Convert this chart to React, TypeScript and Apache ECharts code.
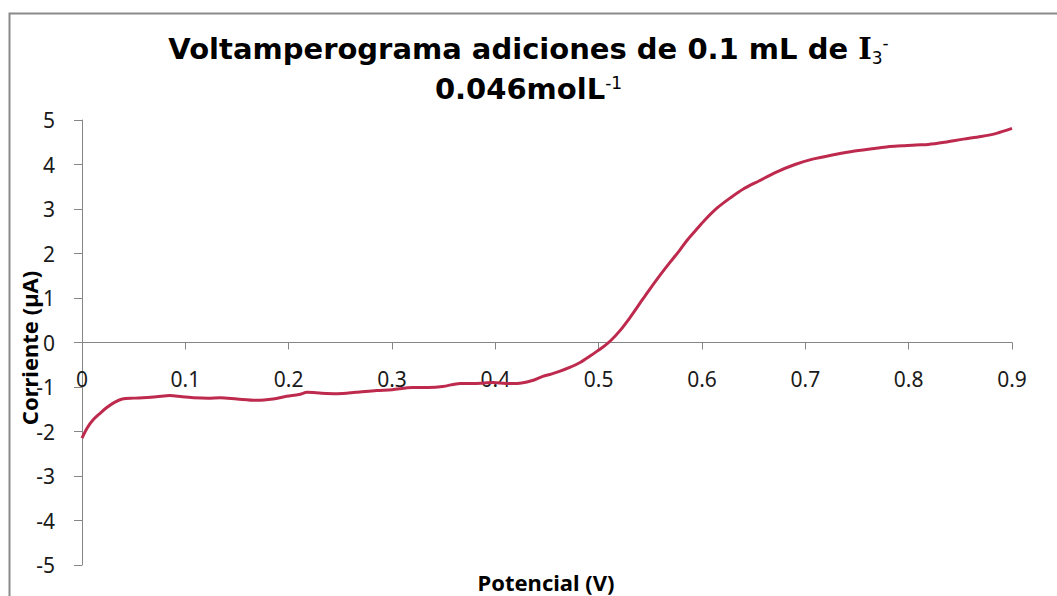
import React, { useEffect, useRef } from "react";
import * as echarts from "echarts";

const potential = [0, 0.005, 0.011, 0.018, 0.024, 0.031, 0.039, 0.05, 0.059, 0.072, 0.085, 0.097, 0.108, 0.122, 0.134, 0.15, 0.169, 0.185, 0.198, 0.21, 0.218, 0.232, 0.247, 0.265, 0.285, 0.3, 0.32, 0.335, 0.349, 0.366, 0.38, 0.398, 0.41, 0.421, 0.435, 0.446, 0.454, 0.462, 0.472, 0.482, 0.492, 0.5, 0.506, 0.512, 0.52, 0.53, 0.539, 0.548, 0.558, 0.569, 0.578, 0.586, 0.595, 0.603, 0.615, 0.628, 0.64, 0.655, 0.672, 0.69, 0.707, 0.725, 0.745, 0.767, 0.78, 0.794, 0.807, 0.819, 0.835, 0.853, 0.87, 0.885, 0.9];
const current = [-2.15, -1.92, -1.73, -1.58, -1.46, -1.35, -1.27, -1.25, -1.24, -1.22, -1.19, -1.22, -1.24, -1.25, -1.24, -1.27, -1.3, -1.27, -1.21, -1.17, -1.12, -1.14, -1.15, -1.12, -1.08, -1.06, -1.01, -1.01, -0.99, -0.92, -0.92, -0.9, -0.92, -0.92, -0.86, -0.76, -0.71, -0.65, -0.56, -0.45, -0.3, -0.17, -0.07, 0.05, 0.25, 0.55, 0.85, 1.15, 1.47, 1.8, 2.06, 2.31, 2.55, 2.76, 3.03, 3.26, 3.45, 3.63, 3.83, 4.0, 4.12, 4.21, 4.29, 4.36, 4.4, 4.42, 4.44, 4.45, 4.5, 4.57, 4.63, 4.7, 4.81];

const titleLine1 = "Voltamperograma adiciones de 0.1 mL de ";
const titleLine2 = "0.046molL";
const xName = "Potencial (V)";
const yName = "Corriente (µA)";

export default function App() {
  const ref = useRef<HTMLDivElement>(null);
  useEffect(() => {
    if (!ref.current) return;
    const chart = echarts.init(ref.current, null, { renderer: "svg" });
    const data = potential.map((v, i) => [v, current[i]]);
    const labelFont = { fontFamily: "Noto Sans", fontSize: 21, color: "#1a1a1a" };
    const gridTop = 120;
    const gridBottom = 31;
    const gridH = 596 - gridTop - gridBottom;
    chart.setOption({
      animation: false,
      backgroundColor: "#ffffff",
      title: {
        text: `${titleLine1}{ser|I}{sub|3}{sup|-}\n${titleLine2}{sup|-1}`,
        left: "center",
        top: 24,
        textStyle: {
          fontFamily: "DejaVu Sans",
          fontWeight: "bold",
          fontSize: 29,
          lineHeight: 40,
          color: "#000",
          rich: {
            ser: { fontFamily: "DejaVu Serif", fontWeight: "bold", fontSize: 29, color: "#000", lineHeight: 40 },
            sub: { fontFamily: "DejaVu Sans", fontWeight: "normal", fontSize: 17, color: "#000", verticalAlign: "bottom", lineHeight: 17, padding: [0, 0, 3, 0] },
            sup: { fontFamily: "DejaVu Sans", fontWeight: "normal", fontSize: 17, color: "#000", verticalAlign: "top", lineHeight: 17, padding: [5, 0, 0, 0] },
          },
        },
      },
      grid: { left: 82, right: 45, top: gridTop, bottom: gridBottom, containLabel: false, outerBoundsMode: "none" },
      xAxis: {
        type: "value",
        min: 0,
        max: 0.9,
        interval: 0.1,
        offset: -gridH / 2,
        axisLine: { onZero: false, lineStyle: { color: "#868686", width: 1 } },
        axisTick: { show: true, inside: false, length: 7, lineStyle: { color: "#868686" } },
        axisLabel: { ...labelFont, margin: 26, formatter: (v: number) => String(Math.round(v * 10) / 10) },
        splitLine: { show: false },
      },
      yAxis: {
        type: "value",
        min: -5,
        max: 5,
        interval: 1,
        axisLine: { show: true, lineStyle: { color: "#868686", width: 1 } },
        axisTick: { show: true, inside: false, length: 8, lineStyle: { color: "#868686" } },
        axisLabel: { ...labelFont, margin: 27 },
        splitLine: { show: false },
      },
      graphic: [
        {
          type: "rect",
          left: 7,
          top: 11,
          shape: { width: 1070, height: 600 },
          style: { fill: "none", stroke: "#8a8a8a", lineWidth: 2 },
          silent: true,
        },
        {
          type: "text",
          x: 546,
          y: 582,
          style: { text: xName, fontFamily: "Noto Sans", fontWeight: "bold", fontSize: 22, fill: "#000", align: "center", verticalAlign: "middle" },
        },
        {
          type: "text",
          x: 29,
          y: 348,
          rotation: Math.PI / 2,
          style: { text: yName, fontFamily: "Noto Sans", fontWeight: "bold", fontSize: 22, fill: "#000", align: "center", verticalAlign: "middle" },
        },
      ],
      series: [
        {
          type: "line",
          data,
          smooth: 0.3,
          showSymbol: false,
          lineStyle: { color: "#be2a4d", width: 3 },
        },
      ],
    });
    return () => chart.dispose();
  }, []);
  return <div ref={ref} style={{ position: "fixed", left: 0, top: 0, width: 1057, height: 596, background: "#fff" }} />;
}
